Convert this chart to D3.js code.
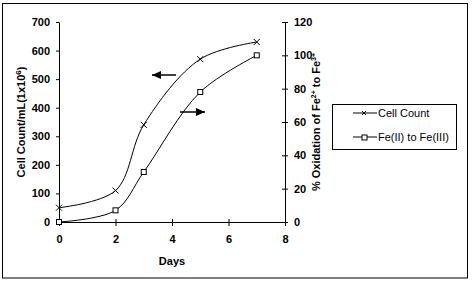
<!DOCTYPE html>
<html>
<head>
<meta charset="utf-8">
<script src="https://cdn.jsdelivr.net/npm/d3@7"></script>
<style>
  body { margin: 0; background: #fff; }
  text { font-family: "Liberation Sans", Arial, sans-serif; }
</style>
</head>
<body>
<svg id="chart" width="472" height="281"></svg>
<script>
// chart data
var days = [0, 2, 3, 5, 7];
var cellCount = [50, 110, 340, 570, 630];
var oxidation = [0, 7, 30, 78, 100];
var xTicks = [0, 2, 4, 6, 8];
var leftTicks = [0, 100, 200, 300, 400, 500, 600, 700];
var rightTicks = [0, 20, 40, 60, 80, 100, 120];

(function () {
    var svg = d3.select("#chart");
    var plot = {left: 59, right: 285, top: 22, bottom: 222};

    var x = d3.scaleLinear().domain([0, 8]).range([plot.left, plot.right]);
    var yL = d3.scaleLinear().domain([0, 700]).range([plot.bottom, plot.top]);
    var yR = d3.scaleLinear().domain([0, 120]).range([plot.bottom, plot.top]);

    // outer frame
    svg.append("rect")
        .attr("x", 2.5).attr("y", 3.5)
        .attr("width", 465).attr("height", 274.5)
        .attr("fill", "none").attr("stroke", "#000");

    function styleAxis(g) {
        g.selectAll(".domain").attr("stroke", "#000");
        g.selectAll(".tick line").attr("stroke", "#000");
        g.selectAll("text")
            .style("font-size", "11px")
            .style("font-weight", "bold")
            .attr("fill", "#000");
    }

    // x axis (ticks cross the axis)
    var gx = svg.append("g")
        .attr("transform", "translate(0," + plot.bottom + ")")
        .call(d3.axisBottom(x).tickValues(xTicks).tickSizeInner(4).tickSizeOuter(0).tickPadding(9));
    gx.selectAll(".tick line").attr("y1", -3);
    styleAxis(gx);

    var gl = svg.append("g")
        .attr("transform", "translate(" + plot.left + ",0)")
        .call(d3.axisLeft(yL).tickValues(leftTicks).tickSizeInner(3).tickSizeOuter(0).tickPadding(6));
    styleAxis(gl);

    var gr = svg.append("g")
        .attr("transform", "translate(" + plot.right + ",0)")
        .call(d3.axisRight(yR).tickValues(rightTicks).tickSizeInner(3).tickSizeOuter(0).tickPadding(6));
    gr.selectAll(".tick line").attr("x1", -3);
    styleAxis(gr);

    // axis titles
    svg.append("text")
        .attr("transform", "translate(25," + ((plot.top + plot.bottom) / 2) + ") rotate(-90)")
        .attr("text-anchor", "middle")
        .style("font-size", "11px").style("font-weight", "bold")
        .html('Cell Count/mL(1x10<tspan dy="-4" font-size="8">6</tspan><tspan dy="4">)</tspan>');

    svg.append("text")
        .attr("transform", "translate(320," + ((plot.top + plot.bottom) / 2) + ") rotate(-90)")
        .attr("text-anchor", "middle")
        .style("font-size", "11px").style("font-weight", "bold")
        .html('% Oxidation of Fe<tspan dy="-4" font-size="7">2+</tspan><tspan dy="4"> to Fe</tspan><tspan dy="-4" font-size="7">3+</tspan>');

    svg.append("text")
        .attr("x", x(4)).attr("y", 265)
        .attr("text-anchor", "middle")
        .style("font-size", "11px").style("font-weight", "bold")
        .text("Days");

    // smoothed lines
    var cellData = days.map(function (d, i) { return [d, cellCount[i]]; });
    var oxData = days.map(function (d, i) { return [d, oxidation[i]]; });

    var lineL = d3.line().curve(d3.curveCatmullRom.alpha(0.5))
        .x(function (d) { return x(d[0]); })
        .y(function (d) { return yL(d[1]); });
    var lineR = d3.line().curve(d3.curveCatmullRom.alpha(0.5))
        .x(function (d) { return x(d[0]); })
        .y(function (d) { return yR(d[1]); });

    svg.append("path").datum(cellData).attr("d", lineL)
        .attr("fill", "none").attr("stroke", "#000").attr("stroke-width", 1);
    svg.append("path").datum(oxData).attr("d", lineR)
        .attr("fill", "none").attr("stroke", "#000").attr("stroke-width", 1);

    // x markers
    svg.selectAll(".xm").data(cellData).enter().append("path")
        .attr("class", "xm")
        .attr("d", function (d) {
            var cx = x(d[0]), cy = yL(d[1]);
            return "M" + (cx - 3) + "," + (cy - 3) + "L" + (cx + 3) + "," + (cy + 3) +
                "M" + (cx - 3) + "," + (cy + 3) + "L" + (cx + 3) + "," + (cy - 3);
        })
        .attr("stroke", "#000").attr("fill", "none");

    // square markers
    svg.selectAll(".sq").data(oxData).enter().append("rect")
        .attr("class", "sq")
        .attr("x", function (d) { return x(d[0]) - 2.5; })
        .attr("y", function (d) { return yR(d[1]) - 2.5; })
        .attr("width", 5).attr("height", 5)
        .attr("fill", "#fff").attr("stroke", "#000");

    // direction arrows
    function arrow(x1, x2, yy) {
        svg.append("line")
            .attr("x1", x1).attr("x2", x2).attr("y1", yy).attr("y2", yy)
            .attr("stroke", "#000").attr("stroke-width", 1.5);
        var dir = x2 > x1 ? 1 : -1;
        svg.append("path")
            .attr("d", "M" + x2 + "," + yy + "L" + (x2 - dir * 9) + "," + (yy - 4) +
                "L" + (x2 - dir * 9) + "," + (yy + 4) + "Z")
            .attr("fill", "#000");
    }
    arrow(176, 152, 75);
    arrow(180, 205, 112);

    // legend
    var lg = svg.append("g");
    lg.append("rect")
        .attr("x", 332.5).attr("y", 104.5).attr("width", 124).attr("height", 45)
        .attr("fill", "#fff").attr("stroke", "#000");
    var legendItems = ["Cell Count", "Fe(II) to Fe(III)"];
    legendItems.forEach(function (name, i) {
        var yy = 113 + i * 24;
        lg.append("line").attr("x1", 353).attr("x2", 377).attr("y1", yy).attr("y2", yy)
            .attr("stroke", "#000");
        if (i === 0) {
            lg.append("path")
                .attr("d", "M362," + (yy - 2) + "L366," + (yy + 2) + "M362," + (yy + 2) + "L366," + (yy - 2))
                .attr("stroke", "#000");
        } else {
            lg.append("rect").attr("x", 362).attr("y", yy - 2).attr("width", 5).attr("height", 5)
                .attr("fill", "#fff").attr("stroke", "#000");
        }
        lg.append("text").attr("x", 378).attr("y", yy + 4)
            .style("font-size", "11px")
            .text(name);
    });
})();
</script>
</body>
</html>
